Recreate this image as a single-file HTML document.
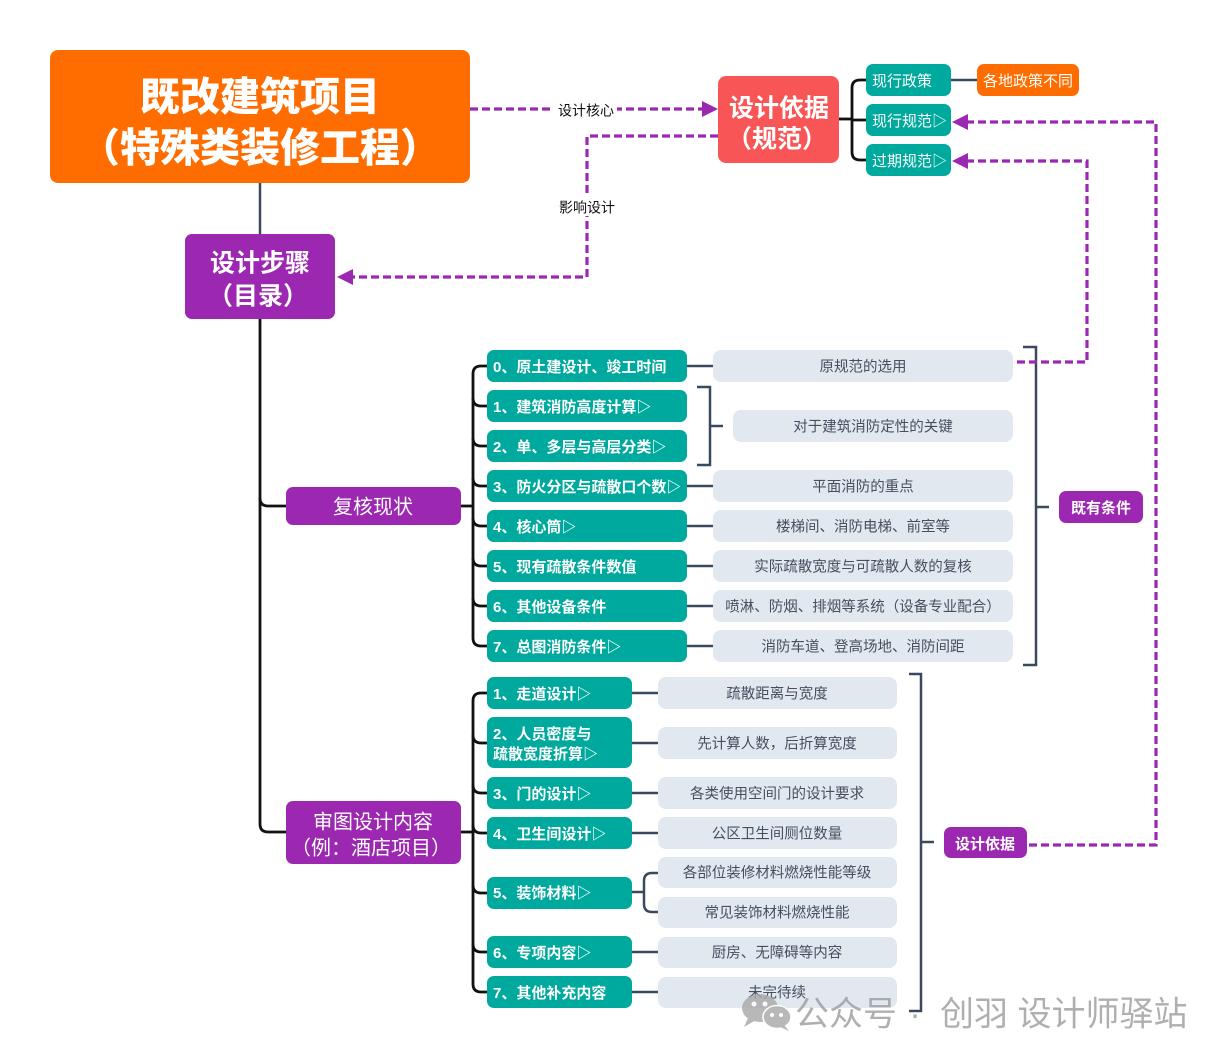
<!DOCTYPE html>
<html><head><meta charset="utf-8"><style>
html,body{margin:0;padding:0;background:#fff;}
svg{display:block;}
text{font-family:"Liberation Sans","Noto Sans CJK SC",sans-serif;transform:translateY(1.5px);}
</style></head><body>
<svg width="1224" height="1062" viewBox="0 0 1224 1062" xmlns="http://www.w3.org/2000/svg">
<!-- connectors: slate -->
<g fill="none" stroke="#3a4a5e" stroke-width="2.5">
<line x1="260" y1="183" x2="260" y2="235"/>
<line x1="951" y1="80" x2="977" y2="80"/>
<line x1="687" y1="366" x2="713" y2="366"/>
<line x1="687" y1="486" x2="713" y2="486"/>
<line x1="687" y1="526" x2="713" y2="526"/>
<line x1="687" y1="566" x2="713" y2="566"/>
<line x1="687" y1="606" x2="713" y2="606"/>
<line x1="687" y1="646" x2="713" y2="646"/>
<path d="M697 387 H710 V465 H697 M710 426 H723"/>
<path d="M1023 347 H1036 V665 H1023 M1036 507 H1049"/>
<line x1="632" y1="693" x2="658" y2="693"/>
<line x1="632" y1="743" x2="658" y2="743"/>
<line x1="632" y1="793" x2="658" y2="793"/>
<line x1="632" y1="833" x2="658" y2="833"/>
<line x1="632" y1="952" x2="658" y2="952"/>
<line x1="632" y1="992" x2="658" y2="992"/>
<path d="M632 892 H644"/>
<path d="M658 873 H652 Q644 873 644 881 V904 Q644 912 652 912 H658"/>
<path d="M909 674 H921 V1011 H909 M921 842 H934"/>
</g>
<!-- black tree lines -->
<g fill="none" stroke="#111" stroke-width="2.8">
<path d="M260 319 V824 Q260 832 268 832 H286"/>
<path d="M260 498 Q260 506 268 506 H286"/>
<path d="M839 119 H852"/>
<path d="M866 80 H860 Q852 80 852 88 V152 Q852 160 860 160 H866 M852 120 H866"/>
<path d="M461 506 H473"/>
<path d="M487 366 H481 Q473 366 473 374 V638 Q473 646 481 646 H487"/>
<path d="M473 398 Q473 406 481 406 H487 M473 438 Q473 446 481 446 H487 M473 478 Q473 486 481 486 H487 M473 518 Q473 526 481 526 H487 M473 558 Q473 566 481 566 H487 M473 598 Q473 606 481 606 H487"/>
<path d="M461 832 H473"/>
<path d="M487 693 H481 Q473 693 473 701 V984 Q473 992 481 992 H487"/>
<path d="M473 735 Q473 743 481 743 H487 M473 785 Q473 793 481 793 H487 M473 825 Q473 833 481 833 H487 M473 885 Q473 893 481 893 H487 M473 944 Q473 952 481 952 H487"/>
</g>
<!-- dashed purple -->
<g fill="none" stroke="#9c27b0" stroke-width="3.2" stroke-dasharray="8 4">
<path d="M470 109 H704"/>
<path d="M718 136 H587 V277 H352"/>
<path d="M966 122 H1156 V845 H1027"/>
<path d="M966 161 H1087 V362 H1013"/>
</g>
<g fill="#9c27b0">
<polygon points="718,109 702,101 702,117"/>
<polygon points="337,277 353,269 353,285"/>
<polygon points="952,122 968,114 968,130"/>
<polygon points="952,161 968,153 968,169"/>
</g>
<rect x="553" y="100" width="64" height="18" fill="#fff"/>
<rect x="553" y="196" width="66" height="20" fill="#fff"/>
<text x="586" y="109" font-size="14" text-anchor="middle" dominant-baseline="central" fill="#111">设计核心</text>
<text x="587" y="206" font-size="14" text-anchor="middle" dominant-baseline="central" fill="#111">影响设计</text>

<!-- main boxes -->
<rect x="50" y="50" width="420" height="133" rx="8" fill="#ff6d00"/>
<text x="260" y="96" font-size="40" font-weight="900" fill="#fff" text-anchor="middle" dominant-baseline="central">既改建筑项目</text>
<text x="260" y="147" font-size="40" font-weight="900" fill="#fff" text-anchor="middle" dominant-baseline="central">（特殊类装修工程）</text>

<rect x="185" y="234" width="150" height="85" rx="7" fill="#9c27b0"/>
<text x="260" y="262" font-size="25" font-weight="700" fill="#fff" text-anchor="middle" dominant-baseline="central">设计步骤</text>
<text x="258" y="295" font-size="25" font-weight="700" fill="#fff" text-anchor="middle" dominant-baseline="central">（目录）</text>

<rect x="718" y="76" width="121" height="87" rx="8" fill="#f85656"/>
<text x="779" y="107" font-size="25" font-weight="700" fill="#fff" text-anchor="middle" dominant-baseline="central">设计依据</text>
<text x="777" y="138" font-size="25" font-weight="700" fill="#fff" text-anchor="middle" dominant-baseline="central">（规范）</text>

<g fill="#00a99d">
<rect x="866" y="64" width="85" height="32" rx="7"/>
<rect x="866" y="104" width="85" height="32" rx="7"/>
<rect x="866" y="144" width="85" height="32" rx="7"/>
</g>
<rect x="977" y="64" width="102" height="32" rx="7" fill="#ff6d00"/>
<g font-size="15" fill="#fff" dominant-baseline="central">
<text x="872" y="80">现行政策</text>
<text x="872" y="120">现行规范▷</text>
<text x="872" y="160">过期规范▷</text>
<text x="1028" y="80" text-anchor="middle">各地政策不同</text>
</g>

<rect x="286" y="487" width="175" height="38" rx="7" fill="#9c27b0"/>
<text x="373" y="506" font-size="20" fill="#fff" text-anchor="middle" dominant-baseline="central">复核现状</text>

<g fill="#00a99d">
<rect x="487" y="350" width="200" height="32" rx="7"/>
<rect x="487" y="390" width="200" height="32" rx="7"/>
<rect x="487" y="430" width="200" height="32" rx="7"/>
<rect x="487" y="470" width="200" height="32" rx="7"/>
<rect x="487" y="510" width="200" height="32" rx="7"/>
<rect x="487" y="550" width="200" height="32" rx="7"/>
<rect x="487" y="590" width="200" height="32" rx="7"/>
<rect x="487" y="630" width="200" height="32" rx="7"/>
</g>
<g font-size="15" font-weight="600" fill="#fff" dominant-baseline="central">
<text x="493" y="366">0、原土建设计、竣工时间</text>
<text x="493" y="406">1、建筑消防高度计算▷</text>
<text x="493" y="446">2、单、多层与高层分类▷</text>
<text x="493" y="486">3、防火分区与疏散口个数▷</text>
<text x="493" y="526">4、核心筒▷</text>
<text x="493" y="566">5、现有疏散条件数值</text>
<text x="493" y="606">6、其他设备条件</text>
<text x="493" y="646">7、总图消防条件▷</text>
</g>
<g fill="#e2e8f0">
<rect x="713" y="350" width="300" height="32" rx="8"/>
<rect x="733" y="410" width="280" height="32" rx="8"/>
<rect x="713" y="470" width="300" height="32" rx="8"/>
<rect x="713" y="510" width="300" height="32" rx="8"/>
<rect x="713" y="550" width="300" height="32" rx="8"/>
<rect x="713" y="590" width="300" height="32" rx="8"/>
<rect x="713" y="630" width="300" height="32" rx="8"/>
</g>
<g font-size="14.5" fill="#454f5e" text-anchor="middle" dominant-baseline="central">
<text x="863" y="366">原规范的选用</text>
<text x="873" y="426">对于建筑消防定性的关键</text>
<text x="863" y="486">平面消防的重点</text>
<text x="863" y="526">楼梯间、消防电梯、前室等</text>
<text x="863" y="566">实际疏散宽度与可疏散人数的复核</text>
<text x="863" y="606">喷淋、防烟、排烟等系统（设备专业配合）</text>
<text x="863" y="646">消防车道、登高场地、消防间距</text>
</g>
<rect x="1059" y="491" width="84" height="32" rx="7" fill="#9c27b0"/>
<text x="1101" y="507" font-size="15" font-weight="700" fill="#fff" text-anchor="middle" dominant-baseline="central">既有条件</text>

<rect x="286" y="801" width="175" height="63" rx="7" fill="#9c27b0"/>
<text x="373" y="821" font-size="20" fill="#fff" text-anchor="middle" dominant-baseline="central">审图设计内容</text>
<text x="371" y="847" font-size="20" fill="#fff" text-anchor="middle" dominant-baseline="central">（例：酒店项目）</text>

<g fill="#00a99d">
<rect x="487" y="677" width="145" height="32" rx="7"/>
<rect x="487" y="717" width="145" height="51" rx="7"/>
<rect x="487" y="777" width="145" height="32" rx="7"/>
<rect x="487" y="817" width="145" height="32" rx="7"/>
<rect x="487" y="877" width="145" height="32" rx="7"/>
<rect x="487" y="936" width="145" height="32" rx="7"/>
<rect x="487" y="976" width="145" height="32" rx="7"/>
</g>
<g font-size="15" font-weight="600" fill="#fff" dominant-baseline="central">
<text x="493" y="693">1、走道设计▷</text>
<text x="493" y="733">2、人员密度与</text>
<text x="493" y="753">疏散宽度折算▷</text>
<text x="493" y="793">3、门的设计▷</text>
<text x="493" y="833">4、卫生间设计▷</text>
<text x="493" y="892">5、装饰材料▷</text>
<text x="493" y="952">6、专项内容▷</text>
<text x="493" y="992">7、其他补充内容</text>
</g>
<g fill="#e2e8f0">
<rect x="658" y="677" width="239" height="32" rx="8"/>
<rect x="658" y="727" width="239" height="32" rx="8"/>
<rect x="658" y="777" width="239" height="32" rx="8"/>
<rect x="658" y="817" width="239" height="32" rx="8"/>
<rect x="658" y="857" width="239" height="31" rx="8"/>
<rect x="658" y="897" width="239" height="31" rx="8"/>
<rect x="658" y="937" width="239" height="31" rx="8"/>
<rect x="658" y="977" width="239" height="31" rx="8"/>
</g>
<g font-size="14.5" fill="#454f5e" text-anchor="middle" dominant-baseline="central">
<text x="777" y="693">疏散距离与宽度</text>
<text x="777" y="743">先计算人数，后折算宽度</text>
<text x="777" y="793">各类使用空间门的设计要求</text>
<text x="777" y="833">公区卫生间厕位数量</text>
<text x="777" y="872">各部位装修材料燃烧性能等级</text>
<text x="777" y="912">常见装饰材料燃烧性能</text>
<text x="777" y="952">厨房、无障碍等内容</text>
<text x="777" y="992">未完待续</text>
</g>
<rect x="944" y="827" width="83" height="31" rx="7" fill="#9c27b0"/>
<text x="985" y="843" font-size="15" font-weight="700" fill="#fff" text-anchor="middle" dominant-baseline="central">设计依据</text>

<g opacity="0.82">
<ellipse cx="760" cy="1008" rx="18" ry="14" fill="#a9a9a9"/>
<polygon points="748,1018 744,1027 756,1020" fill="#a9a9a9"/>
<ellipse cx="777" cy="1017" rx="14" ry="11.5" fill="#a9a9a9" stroke="#fff" stroke-width="1.5"/>
<polygon points="784,1025 789,1031 780,1027" fill="#a9a9a9"/>
<circle cx="754" cy="1004" r="2.5" fill="#fff"/>
<circle cx="765" cy="1004" r="2.5" fill="#fff"/>
<circle cx="772" cy="1015" r="2" fill="#fff"/>
<circle cx="781" cy="1015" r="2" fill="#fff"/>
<text x="795" y="1013" font-size="34" fill="#9e9e9e" dominant-baseline="central">公众号</text>
<text x="915" y="1013" font-size="34" fill="#9e9e9e" text-anchor="middle" dominant-baseline="central">·</text>
<text x="940" y="1013" font-size="34" fill="#9e9e9e" dominant-baseline="central">创羽 设计师驿站</text>
</g>
</svg>
</body></html>
